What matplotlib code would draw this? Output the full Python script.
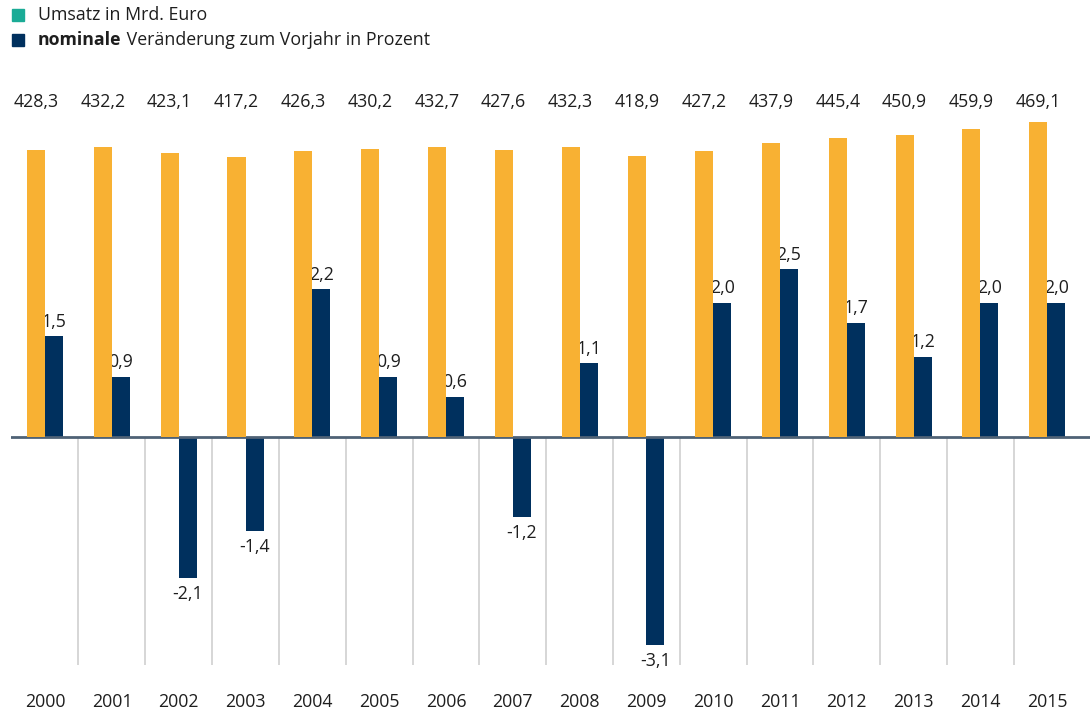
import numpy as np
import matplotlib.pyplot as plt
from matplotlib.patches import Rectangle

plt.rcParams["font.family"] = ["Open Sans", "DejaVu Sans"]

# Daten
jahre = ["2000", "2001", "2002", "2003", "2004", "2005", "2006", "2007",
         "2008", "2009", "2010", "2011", "2012", "2013", "2014", "2015"]
umsatz = [428.3, 432.2, 423.1, 417.2, 426.3, 430.2, 432.7, 427.6,
          432.3, 418.9, 427.2, 437.9, 445.4, 450.9, 459.9, 469.1]
veraenderung = [1.5, 0.9, -2.1, -1.4, 2.2, 0.9, 0.6, -1.2,
                1.1, -3.1, 2.0, 2.5, 1.7, 1.2, 2.0, 2.0]

orange = "#f8b133"
navy = "#00305e"
teal = "#1aab96"
textfarbe = "#1e1e1e"
fs = 12.8

def fmt(v):
    return f"{v:.1f}".replace(".", ",")

fig = plt.figure(figsize=(10.9, 7.14), dpi=100)
ax = fig.add_axes([11 / 1090, 49 / 714, 1079 / 1090, 570 / 714])
ax2 = ax.twinx()

x = np.arange(len(jahre))
breite = 0.27
ymin, ymax = -3.40, 5.10

ax.set_xlim(-0.51, 15.64)
ax.set_ylim(ymin, ymax)
ax2.set_ylim(ymin * 100, ymax * 100)

# Umsatz (rechte Skala, Faktor 100)
ax2.bar(x - breite / 2, umsatz, width=breite, color=orange, zorder=2)
for xi, v in zip(x, umsatz):
    ax2.text(xi - breite / 2, 499, fmt(v), ha="center", va="center",
             fontsize=fs, color=textfarbe)

# Veränderung
ax.bar(x + breite / 2, veraenderung, width=breite, color=navy, zorder=2)
for xi, v in zip(x, veraenderung):
    if v >= 0:
        ax.annotate(fmt(v), (xi + breite / 2, v), xytext=(0, 4),
                    textcoords="offset points", ha="center", va="bottom",
                    fontsize=fs, color=textfarbe)
    else:
        ax.annotate(fmt(v), (xi + breite / 2, v), xytext=(0, -5),
                    textcoords="offset points", ha="center", va="top",
                    fontsize=fs, color=textfarbe)

# Trennlinien unterhalb der Nulllinie
ax.vlines(x[:-1] + 0.5, ymin, 0, color="#d0d0d0", lw=1.2, zorder=1)
ax.axhline(0, color="#4f6276", lw=2, zorder=3)

# Achsen
for a in (ax, ax2):
    for s in a.spines.values():
        s.set_visible(False)
    a.set_yticks([])
ax.set_xticks(x)
ax.set_xticklabels(jahre, fontsize=fs, color=textfarbe)
ax.tick_params(axis="x", length=0, pad=20)

# Legende
fig.patches.append(Rectangle((12 / 1090, 1 - 21 / 714), 12 / 1090, 12 / 714,
                             transform=fig.transFigure, color=teal))
fig.patches.append(Rectangle((12 / 1090, 1 - 46 / 714), 12 / 1090, 12 / 714,
                             transform=fig.transFigure, color=navy))
fig.text(38 / 1090, 1 - 15 / 714, "Umsatz in Mrd. Euro", va="center",
         fontsize=fs, color=textfarbe)
t = fig.text(38 / 1090, 1 - 40 / 714, "nominale", va="center",
             fontsize=fs, fontweight="bold", color=textfarbe)
ax.annotate(" Veränderung zum Vorjahr in Prozent", xy=(1, 0.5),
            xycoords=t, va="center", fontsize=fs, color=textfarbe,
            annotation_clip=False)

fig.savefig("out.png", dpi=100)
